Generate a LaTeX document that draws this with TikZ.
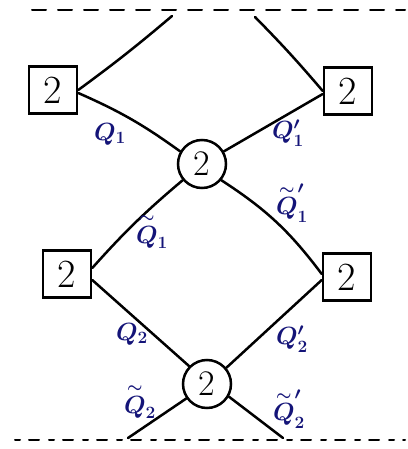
\documentclass[tikz,border=0pt]{standalone}
\usetikzlibrary{calc}
\definecolor{ink}{RGB}{20,20,120}
\newcommand{\tq}{\stackrel{\raisebox{1pt}{$\scriptstyle\sim$}}{Q}}
\begin{document}
\begin{tikzpicture}[x={(1pt,0)},y={(0,-1pt)},
  line width=2.5pt, line cap=round,
  gbox/.style={draw, minimum width=48pt, minimum height=47pt, inner sep=0pt, font=\fontsize{40}{40}\selectfont},
  gcirc/.style={draw, circle, minimum size=48pt, inner sep=0pt, font=\fontsize{36}{36}\selectfont},
  lab/.style={text=ink, font=\fontsize{24}{24}\selectfont\boldmath},
  bdry/.style={line width=2pt, dash pattern=on 14pt off 12pt}]
\useasboundingbox (0,0) rectangle (407,449);
% boundaries
\coordinate (tl0) at (32,10);
\coordinate (tr0) at (405,10);
\coordinate (bl0) at (15,440);
\coordinate (br0) at (405,440);
\draw[bdry] (tl0) -- (tr0);
\draw[bdry, dash pattern=on 5pt off 9pt on 10pt off 10pt] (bl0) -- (br0);
% nodes
\node[gbox] (TL) at (53,90) {2};
\node[gbox] (TR) at (348,91) {2};
\node[gbox] (ML) at (67,274) {2};
\node[gbox] (MR) at (347,277) {2};
\node[gcirc] (C1) at (202,164) {2};
\node[gcirc] (C2) at (207,384) {2};
\coordinate (ta) at (172,16);
\coordinate (tb) at (255,17);
\coordinate (ba) at (128,438);
\coordinate (bb) at (283,438);
% connectors
\draw (ta) to[bend left=2] (TL.east);
\draw (tb) to[bend left=2] (TR.west);
\draw ([yshift=-3pt]TL.east) to[bend left=6] (C1.150);
\draw (C1.30) -- ([yshift=-3pt]TR.west);
\draw (C1.220) to[bend right=4] ([yshift=6pt]ML.east);
\draw (C1.320) to[bend left=10] ([yshift=3pt]MR.west);
\draw ([yshift=-6pt]ML.east) -- (C2.135);
\draw (C2.40) -- ([yshift=-3pt]MR.west);
\draw (C2.215) -- (ba);
\draw (C2.330) -- (bb);
% labels
\node[lab] (l1) at (110,134) {$Q_1$};
\node[lab] (l2) at (288,133) {$Q'_1$};
\node[lab] (l3) at (152,232) {$\tq_1$};
\node[lab] (l4) at (292,203) {$\tq'_1$};
\node[lab] (l5) at (132,334) {$Q_2$};
\node[lab] (l6) at (292,339) {$Q'_2$};
\node[lab] (l7) at (140,402) {$\tq_2$};
\node[lab] (l8) at (289,409) {$\tq'_2$};
\end{tikzpicture}
\end{document}
